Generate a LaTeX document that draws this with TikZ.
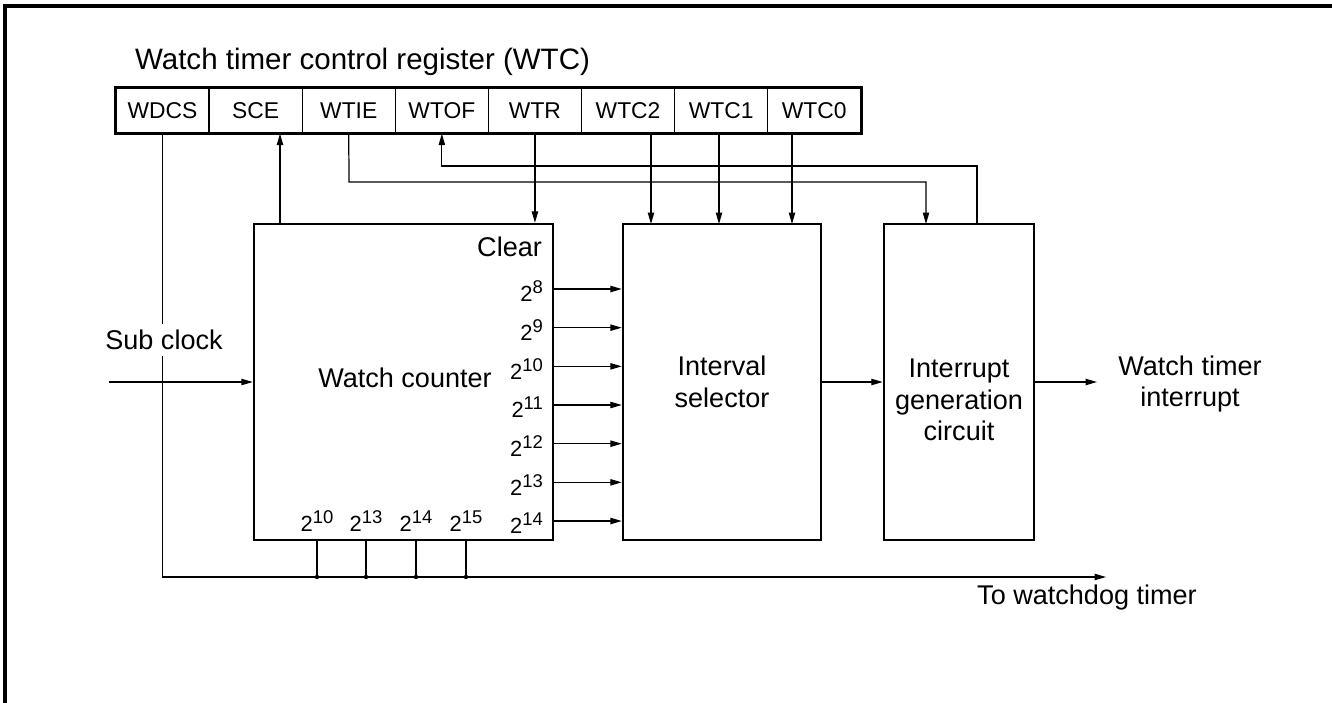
\documentclass[tikz,border=0pt]{standalone}
\usepackage{fontspec}
\setmainfont{Liberation Sans}
\usetikzlibrary{arrows.meta}
\newcommand\powtwo[1]{2\raisebox{0.36em}{\fontsize{10.5}{11}\selectfont #1}}
\tikzset{
  frame/.style={line width=1.8pt},
  block/.style={draw, line width=1.4pt, minimum height=6.32cm, inner sep=0pt},
  cell/.style={draw, line width=0.7pt, minimum width=1.862cm, minimum height=0.9cm, inner sep=0pt, font=\fontsize{13}{15}\selectfont},
  wire/.style={line width=0.7pt},
  sig/.style={wire, -{Triangle[length=6.5pt,width=3.6pt]}},
  lbl/.style={font=\fontsize{15.4}{18.1}\selectfont, align=center, inner sep=1pt},
  explbl/.style={font=\fontsize{12.5}{14}\selectfont, inner sep=1pt},
  tapdot/.style={circle, fill, inner sep=0pt, minimum size=2.5pt},
}

\begin{document}
\begin{tikzpicture}[x=0.02cm,y=-0.02cm]
\useasboundingbox (0,0) rectangle (1332,703);
\draw[frame] (1332,6) -- (5,6) -- (5,703);
\node[lbl, font=\fontsize{16.8}{20}\selectfont, anchor=west] (title) at (133,62) {Watch timer control register (WTC)};
\foreach \name [count=\i from 0] in {WDCS,SCE,WTIE,WTOF,WTR,WTC2,WTC1,WTC0}
  \node[cell] (reg\i) at ({162.55+93.1*\i},110.5) {\name};
\draw[line width=1.4pt] (reg0.north west) rectangle (reg7.south east);
\node[block, minimum width=5.98cm] (counter) at (403.5,382) {};
\node[lbl] (countertext) at (405,378) {Watch counter};
\node[block, minimum width=3.96cm, lbl] (selector) at (722,382) {Interval\\selector};
\node[block, minimum width=3.0cm] (intgen) at (959,382) {};
\node[lbl] (intgentext) at (959,400) {Interrupt\\generation\\circuit};
\node[lbl, anchor=east] (clear) at (544,247) {Clear};
\foreach \e [count=\k from 0] in {8,...,14} {
  \coordinate (out\e) at (553,{289+38.67*\k});
  \node[explbl, anchor=east] (exp\e) at ([xshift=-0.16cm,yshift=-0.05cm]out\e) {\powtwo{\e}};
  \draw[sig] (out\e) -- (out\e -| selector.west);
}
\coordinate (busL) at (162,577);
\coordinate (wdogEnd) at (1106,577);
\draw[sig] (reg0.south) |- (wdogEnd);
\node[lbl] (wdog) at (1087,597) {To watchdog timer};
\foreach \x/\e in {317/10,366/13,416/14,466/15} {
  \coordinate (tap\e) at (\x,540);
  \node[explbl] (bexp\e) at (\x,521) {\powtwo{\e}};
  \draw[wire] (tap\e) -- (tap\e |- busL);
  \node[tapdot] (dot\e) at (tap\e |- busL) {};
}
\node[lbl, fill=white, inner ysep=3.5pt] (subclk) at (164,340) {Sub clock};
\coordinate (subIn) at (109,382);
\draw[sig] (subIn) -- (subIn -| counter.west);
\coordinate (sceOut) at (280,224);
\draw[sig] (sceOut) -- (sceOut |- reg1.south);
\coordinate (ieBend) at (349,182);
\coordinate (ieIn) at (926,224);
\draw[sig] (reg2.south) -- (ieBend) -| (ieIn);
\coordinate (ofOut) at (977,224);
\coordinate (ofBend) at (977,166);
\draw[sig] (ofOut) -- (ofBend) -| (reg3.south);
\draw[sig] (reg4.south) -- (reg4.south |- counter.north);
\foreach \x [count=\j from 5] in {651,719,792} {
  \coordinate (selIn\j) at (\x,224);
  \draw[sig] (selIn\j |- reg\j.south) -- (selIn\j);
}
\draw[sig] (selector.east) -- (intgen.west);
\coordinate (wtiOut) at (1097,382);
\draw[sig] (intgen.east) -- (wtiOut);
\node[lbl] (wti) at (1190,384) {Watch timer\\interrupt};
\end{tikzpicture}
\end{document}
